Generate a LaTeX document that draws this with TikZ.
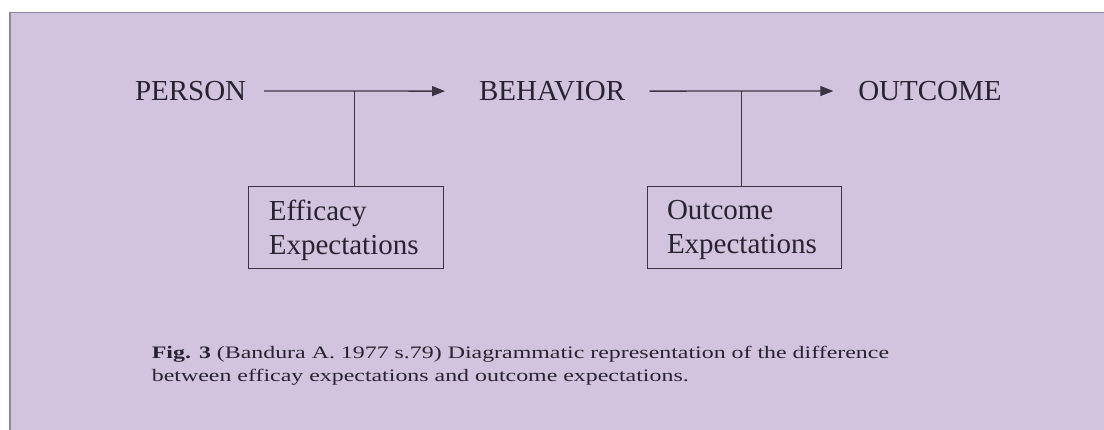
\documentclass[tikz,border=0pt]{standalone}
\usepackage{fontspec}
\setmainfont{Liberation Serif}
\newfontfamily\capfont[FakeStretch=1.365]{Liberation Serif}
\usetikzlibrary{arrows.meta}
\definecolor{bgpurple}{RGB}{210,195,222}
\definecolor{ink}{RGB}{40,35,48}
\definecolor{lineink}{RGB}{60,52,68}
\definecolor{framegray}{RGB}{140,135,148}
\begin{document}
\begin{tikzpicture}[x=1pt,y=-1pt,
  lbl/.style={inner sep=0pt, outer sep=0pt, anchor=base west, text=ink, font=\fontsize{29}{34}\selectfont},
  conn/.style={draw=lineink, line width=1.3pt},
  arr/.style={conn, -{Triangle[length=13pt,width=10pt]}},
  expbox/.style={draw=lineink, line width=1.3pt, anchor=north west, align=left, text=ink,
    font=\fontsize{29}{34}\selectfont, inner ysep=0pt, outer sep=0pt, minimum height=81.6pt, text depth=35pt},
  captext/.style={inner sep=0pt, anchor=base west, align=left, text=ink, font=\capfont\fontsize{17.5}{23}\selectfont}]
\useasboundingbox (0,0) rectangle (1104,430);
\fill[white] (0,0) rectangle (1104,430);
\fill[bgpurple] (10,12.5) rectangle (1104,430);
\draw[framegray, line width=1.5pt] (10,430) -- (10,12.5) -- (1104,12.5);

\node[lbl] (person) at (135,100.5) {PERSON};
\node[lbl] (behavior) at (479,100.5) {BEHAVIOR};
\node[lbl] (outcome) at (858.3,100.5) {OUTCOME};

\node[expbox, text width=154pt, inner xsep=20.5pt] (box1) at (248.3,186.7) {Efficacy\\Expectations};
\node[expbox, text width=155pt, inner xsep=19.7pt] (box2) at (647.3,186.7) {Outcome\\Expectations};

\draw[arr] ([xshift=17.8pt]person.east) -- coordinate[pos=0.5] (j1) ([xshift=-34pt]behavior.west);
\draw[arr] ([xshift=24.5pt]behavior.east) -- coordinate[pos=0.5] (j2) ([xshift=-25pt]outcome.west);
\draw[conn] (j1) -- (j1 |- box1.north);
\draw[conn] (j2) -- (j2 |- box2.north);

\node[captext] (cap) at (151.7,382) {\textbf{Fig. 3} (Bandura A. 1977 s.79) Diagrammatic representation of the difference\\between efficay expectations and outcome expectations.};
\end{tikzpicture}
\end{document}
